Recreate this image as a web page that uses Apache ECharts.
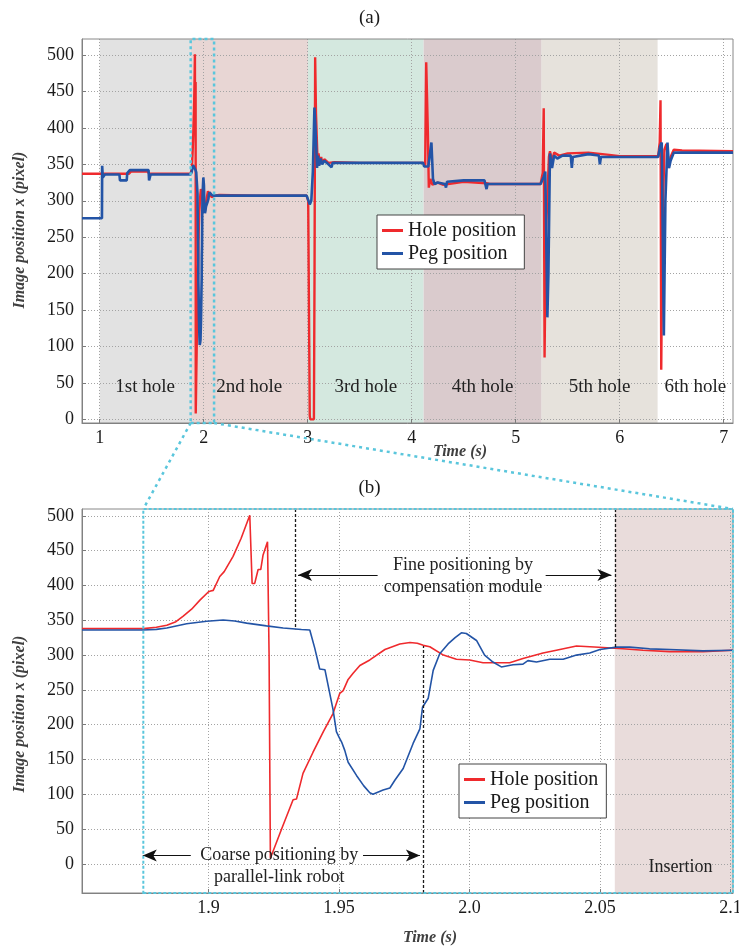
<!DOCTYPE html>
<html>
<head>
<meta charset="utf-8">
<script src="https://cdn.jsdelivr.net/npm/echarts@6/dist/echarts.min.js"></script>
<style>
  html, body { margin: 0; padding: 0; background: #fff; }
  #chart { width: 739px; height: 949px; }
</style>
</head>
<body>
<div id="chart"></div>
<script>
// ---------- data ----------
const overviewXTicks = [1, 2, 3, 4, 5, 6, 7];
const zoomXTicks = [1.9, 1.95, 2.0, 2.05, 2.1];
const pixelTicks = [0, 50, 100, 150, 200, 250, 300, 350, 400, 450, 500];

const overviewRange = [0.83, 7.09];
const overviewPixelRange = [-5, 522];
const zoomRange = [1.8515, 2.101];
const zoomPixelRange = [-42, 510];

// insertion phases of the six holes (s)
const phaseNames = ['1st hole', '2nd hole', '3rd hole', '4th hole', '5th hole', '6th hole'];
const phaseBounds = [1.0, 1.875, 3.003, 4.115, 5.25, 6.365, 7.09];

// detailed window around the 2nd hole (s)
const zoomWindow = [1.875, 2.1];
const fineStart = 1.9333;
const coarseEnd = 1.9823;
const insertionStart = 2.0557;

// hole / peg image position x (pixel) vs time (s), before the detailed window
const holeBefore = [[0.83,337],[1.03,337],[1.2,337],[1.28,337],[1.3,340],[1.46,340],[1.48,337],[1.85,337]];
const pegBefore = [[0.83,276],[1.022,276],[1.024,348],[1.03,332],[1.05,336],[1.19,336],[1.195,328],[1.26,328],[1.265,338],[1.29,342],[1.47,342],[1.475,328],[1.49,336],[1.85,336]];

// detailed window (also used in the overview)
const holeZoom = [[1.8515,338],[1.875,338],[1.880,340],[1.884,343],[1.8875,348],[1.8903,356],[1.8935,366],[1.8967,379],[1.900,391],[1.9008,392],[1.9018,393],[1.9043,413],[1.906,420],[1.9094,442],[1.9125,468],[1.9158,501],[1.9167,403],[1.9177,403],[1.919,423],[1.920,423],[1.9209,444],[1.9226,463],[1.9232,300],[1.9237,8],[1.928,50],[1.9324,92],[1.9337,93],[1.9362,130],[1.940,160],[1.944,190],[1.9477,216],[1.9503,245],[1.9516,249],[1.9535,265],[1.9554,274],[1.958,285],[1.9618,293],[1.9676,308],[1.9733,316],[1.9772,318],[1.980,317],[1.9823,314],[1.9848,312],[1.990,300],[1.995,294],[2.0001,293],[2.0052,289],[2.0154,289],[2.0205,295],[2.0282,303],[2.0333,307],[2.041,313],[2.0512,311],[2.0588,309],[2.0665,307],[2.0767,305],[2.0895,305],[2.101,307]];
const pegZoom = [[1.8515,336],[1.875,336],[1.880,337],[1.884,339],[1.8916,345],[1.8993,348.6],[1.9056,350.5],[1.910,349],[1.9146,346],[1.9222,342],[1.9286,339],[1.9356,336.7],[1.9388,336],[1.9407,310],[1.9426,280],[1.9446,279],[1.9477,222],[1.949,190],[1.950,182],[1.951,175],[1.9522,163],[1.9535,146],[1.9567,127],[1.9595,112],[1.9618,102],[1.963,100],[1.9669,106],[1.9695,109],[1.9714,120],[1.9746,137],[1.9784,173],[1.981,194],[1.982,225],[1.9842,238],[1.9861,278],[1.9886,302],[1.9918,316],[1.9945,325],[1.9969,332],[1.9988,331],[2.0027,321],[2.0058,300],[2.009,290],[2.0122,283],[2.0167,286],[2.0205,287],[2.0224,292],[2.0257,290],[2.0308,294],[2.0359,294],[2.041,300],[2.0461,303],[2.05,308],[2.0563,311.5],[2.0614,311.5],[2.069,309],[2.0767,308],[2.0895,306],[2.101,307]];

// after the detailed window
const holeAfter = [[2.15,308],[2.5,307],[2.99,307],[3.005,300],[3.02,5],[3.025,0],[3.06,0],[3.066,200],[3.072,497],[3.08,420],[3.095,355],[3.105,365],[3.115,350],[3.13,360],[3.14,352],[3.16,357],[3.2,352],[3.26,353],[3.5,352],[4.12,352],[4.13,348],[4.14,490],[4.155,400],[4.165,318],[4.18,330],[4.2,322],[4.25,325],[4.3,322],[4.5,326],[4.72,324],[4.75,323],[5.24,323],[5.26,338],[5.27,427],[5.278,85],[5.29,250],[5.32,360],[5.33,368],[5.35,355],[5.37,366],[5.42,362],[5.5,365],[5.7,366],[5.9,363],[6.0,361],[6.37,361],[6.385,380],[6.393,438],[6.4,68],[6.41,250],[6.43,370],[6.45,378],[6.47,345],[6.49,360],[6.52,370],[6.6,369],[7.09,368]];
const pegAfter = [[2.15,307],[2.99,307],[3.0,305],[3.02,295],[3.035,300],[3.05,340],[3.065,428],[3.075,400],[3.09,345],[3.1,362],[3.11,348],[3.125,358],[3.14,350],[3.16,355],[3.2,350],[3.23,346],[3.24,352],[4.11,352],[4.12,347],[4.16,347],[4.19,380],[4.205,330],[4.22,323],[4.25,325],[4.32,323],[4.33,318],[4.34,326],[4.5,328],[4.7,328],[4.72,316],[4.73,323],[5.24,323],[5.27,333],[5.285,340],[5.305,140],[5.315,200],[5.33,365],[5.35,345],[5.37,362],[5.4,358],[5.45,362],[5.53,362],[5.54,345],[5.55,360],[5.7,364],[5.8,362],[5.81,350],[5.82,360],[6.37,360],[6.39,375],[6.405,380],[6.425,115],[6.44,300],[6.46,380],[6.475,345],[6.49,355],[6.52,366],[7.09,366]];

// ---------- styles ----------
const SERIF = '"Liberation Serif", "Times New Roman", serif';
const RED = '#ef2a2d';
const BLUE = '#2354a6';
const CYAN = '#5ac6dc';
const INK = '#1a1a1a';
const phaseColors = ['#e2e2e2', '#e8d6d4', '#d4e8df', '#dacbcd', '#e6e2dc', null];
const insertionColor = '#e9dcdb';
const phaseLabelLevel = 45;

function xAxisFor(gridIndex, range, ticks, fmt) {
  return {
    type: 'value', gridIndex, min: range[0], max: range[1], z: 1.5,
    axisLine: { show: true, onZero: false, lineStyle: { color: '#7a7a7a', width: 1 } },
    axisTick: { show: true, inside: true, length: 4, customValues: ticks, lineStyle: { color: '#7a7a7a' } },
    axisLabel: { customValues: ticks, fontFamily: SERIF, fontSize: 18, color: INK, margin: 6, formatter: fmt },
    splitLine: { show: true, lineStyle: { color: '#a3a3a3', width: 1, type: [1, 2] } }
  };
}
function yAxisFor(gridIndex, range) {
  return {
    type: 'value', gridIndex, min: range[0], max: range[1], z: 1.5,
    axisLine: { show: true, onZero: false, lineStyle: { color: '#7a7a7a', width: 1 } },
    axisTick: { show: true, inside: true, length: 4, customValues: pixelTicks, lineStyle: { color: '#7a7a7a' } },
    axisLabel: { customValues: pixelTicks, fontFamily: SERIF, fontSize: 18, color: INK, margin: 8 },
    splitLine: { show: true, lineStyle: { color: '#a3a3a3', width: 1, type: [1, 2] } }
  };
}
function legendAt(left, top) {
  return {
    data: ['Hole position', 'Peg position'], left, top, orient: 'vertical',
    icon: 'rect', itemWidth: 21, itemHeight: 3, itemGap: 0,
    padding: [4, 8, 4, 5], borderColor: '#444', borderWidth: 1, backgroundColor: '#fff',
    textStyle: { fontFamily: SERIF, fontSize: 20, color: INK, lineHeight: 23 },
    selectedMode: false
  };
}
const textLabel = (size) => ({
  show: true, position: 'inside', formatter: '{b}', opacity: 1,
  fontFamily: SERIF, fontSize: size, color: '#222', lineHeight: 22,
  textBorderWidth: 0
});
const gridBox = (top) => ({
  left: 82, top, width: 651, height: 384, show: true, borderColor: '#888', borderWidth: 1,
  z: 1.6, backgroundColor: 'transparent', containLabel: false, outerBoundsMode: 'none'
});

const chart = echarts.init(document.getElementById('chart'), null, { renderer: 'canvas' });

const option = {
  animation: false,
  backgroundColor: '#fff',
  grid: [gridBox(39), gridBox(509)],
  xAxis: [
    xAxisFor(0, overviewRange, overviewXTicks),
    xAxisFor(1, zoomRange, zoomXTicks, (v) => (Math.abs(v - 2) < 1e-9 ? '2.0' : String(+v.toFixed(2))))
  ],
  yAxis: [yAxisFor(0, overviewPixelRange), yAxisFor(1, zoomPixelRange)],
  legend: [legendAt(377, 215), legendAt(459, 764)],
  series: [
    {
      name: 'Hole position', type: 'line', xAxisIndex: 0, yAxisIndex: 0, z: 2,
      data: holeBefore.concat(holeZoom, holeAfter), showSymbol: false, symbol: 'none',
      color: RED, lineStyle: { color: RED, width: 2.4 },
      markArea: {
        silent: true, z: 1,
        data: phaseNames.map((n, i) => phaseColors[i]
          ? [{ xAxis: phaseBounds[i], itemStyle: { color: phaseColors[i] } }, { xAxis: phaseBounds[i + 1] }]
          : null).filter(Boolean)
      }
    },
    {
      name: 'Peg position', type: 'line', xAxisIndex: 0, yAxisIndex: 0, z: 3,
      data: pegBefore.concat(pegZoom, pegAfter), showSymbol: false, symbol: 'none',
      color: BLUE, lineStyle: { color: BLUE, width: 2.6 }
    },
    {
      name: 'Hole position', type: 'line', xAxisIndex: 1, yAxisIndex: 1, z: 2,
      data: holeZoom, showSymbol: false, symbol: 'none',
      color: RED, lineStyle: { color: RED, width: 1.6 },
      markArea: {
        silent: true, z: 1,
        data: [[{ xAxis: insertionStart, itemStyle: { color: insertionColor } }, { xAxis: zoomRange[1] }]]
      }
    },
    {
      name: 'Peg position', type: 'line', xAxisIndex: 1, yAxisIndex: 1, z: 3,
      data: pegZoom, showSymbol: false, symbol: 'none',
      color: BLUE, lineStyle: { color: BLUE, width: 1.6 },
      // phase boundaries in the detailed window
      markLine: {
        silent: true, symbol: 'none', z: 4,
        lineStyle: { color: '#1a1a1a', width: 1.3, type: [3, 2] },
        label: { show: false },
        data: [
          [{ coord: [fineStart, zoomPixelRange[1]] }, { coord: [fineStart, 337] }],
          [{ coord: [coarseEnd, zoomPixelRange[0]] }, { coord: [coarseEnd, 313] }],
          [{ coord: [insertionStart, zoomPixelRange[1]] }, { coord: [insertionStart, 310] }]
        ]
      }
    },
    {
      // zoom-window frames
      name: 'frame-a', type: 'line', xAxisIndex: 0, yAxisIndex: 0, data: [],
      markArea: {
        silent: true, z: 6,
        itemStyle: { color: 'rgba(0,0,0,0)', borderColor: CYAN, borderWidth: 2.5, borderType: [3, 3] },
        data: [[{ coord: [zoomWindow[0], overviewPixelRange[0]] }, { coord: [zoomWindow[1], overviewPixelRange[1]] }]]
      }
    },
    {
      name: 'frame-b', type: 'line', xAxisIndex: 1, yAxisIndex: 1, data: [],
      markArea: {
        silent: true, z: 6,
        itemStyle: { color: 'rgba(0,0,0,0)', borderColor: CYAN, borderWidth: 2, borderType: [3, 2] },
        data: [[{ coord: [zoomWindow[0], zoomPixelRange[0]] }, { coord: [zoomRange[1], zoomPixelRange[1]] }]]
      },
      // annotation arrows
      markLine: {
        silent: true, symbol: ['none', 'arrow'], symbolSize: [9, 14], z: 5,
        lineStyle: { color: '#111', width: 1.2, type: 'solid' },
        label: { show: false },
        data: [
          [{ coord: [1.9648, 415] }, { coord: [1.9343, 415] }],
          [{ coord: [2.0292, 415] }, { coord: [2.0544, 415] }],
          [{ coord: [1.8932, 12] }, { coord: [1.8748, 12] }],
          [{ coord: [1.9592, 12] }, { coord: [1.9810, 12] }]
        ]
      }
    },
    {
      name: 'phase-labels', type: 'scatter', xAxisIndex: 0, yAxisIndex: 0, z: 4,
      symbolSize: 0, itemStyle: { color: 'rgba(0,0,0,0)' },
      label: textLabel(19),
      data: phaseNames.map((n, i) => ({ name: n, value: [(phaseBounds[i] + phaseBounds[i + 1]) / 2, phaseLabelLevel] }))
    },
    {
      name: 'notes', type: 'scatter', xAxisIndex: 1, yAxisIndex: 1, z: 4,
      symbolSize: 0, itemStyle: { color: 'rgba(0,0,0,0)' },
      label: textLabel(18),
      data: [
        { name: 'Fine positioning by\ncompensation module', value: [1.9975, 413] },
        { name: 'Coarse positioning by\nparallel-link robot', value: [1.9271, -3] },
        { name: 'Insertion', value: [2.0809, -5] }
      ]
    }
  ],
  graphic: [
    { type: 'text', left: 'center', top: 9, style: { text: '(a)', font: '19px ' + SERIF, fill: INK } },
    { type: 'text', left: 'center', top: 479, style: { text: '(b)', font: '19px ' + SERIF, fill: INK } },
    { type: 'text', x: 460, y: 452, style: { text: 'Time (s)', font: 'italic bold 16px ' + SERIF, fill: '#404040', align: 'center', verticalAlign: 'middle' } },
    { type: 'text', x: 430, y: 938, style: { text: 'Time (s)', font: 'italic bold 16px ' + SERIF, fill: '#404040', align: 'center', verticalAlign: 'middle' } },
    { type: 'text', x: 20, y: 230, rotation: Math.PI / 2, style: { text: 'Image position x (pixel)', font: 'italic bold 16px ' + SERIF, fill: '#404040', align: 'center', verticalAlign: 'middle' } },
    { type: 'text', x: 20, y: 714, rotation: Math.PI / 2, style: { text: 'Image position x (pixel)', font: 'italic bold 16px ' + SERIF, fill: '#404040', align: 'center', verticalAlign: 'middle' } }
  ]
};

chart.setOption(option);

// dotted connectors from the zoom window in (a) to the frame of (b)
const a0 = chart.convertToPixel({ xAxisIndex: 0, yAxisIndex: 0 }, [zoomWindow[0], overviewPixelRange[0]]);
const a1 = chart.convertToPixel({ xAxisIndex: 0, yAxisIndex: 0 }, [zoomWindow[1], overviewPixelRange[0]]);
const b0 = chart.convertToPixel({ xAxisIndex: 1, yAxisIndex: 1 }, [zoomWindow[0], zoomPixelRange[1]]);
const b1 = chart.convertToPixel({ xAxisIndex: 1, yAxisIndex: 1 }, [zoomRange[1], zoomPixelRange[1]]);
const connector = (p, q) => ({
  type: 'line', z: 10, silent: true,
  shape: { x1: p[0], y1: p[1], x2: q[0], y2: q[1] },
  style: { stroke: CYAN, lineWidth: 2.5, lineDash: [3, 4] }
});
chart.setOption({ graphic: option.graphic.concat([connector(a0, b0), connector(a1, b1)]) });
</script>
</body>
</html>
